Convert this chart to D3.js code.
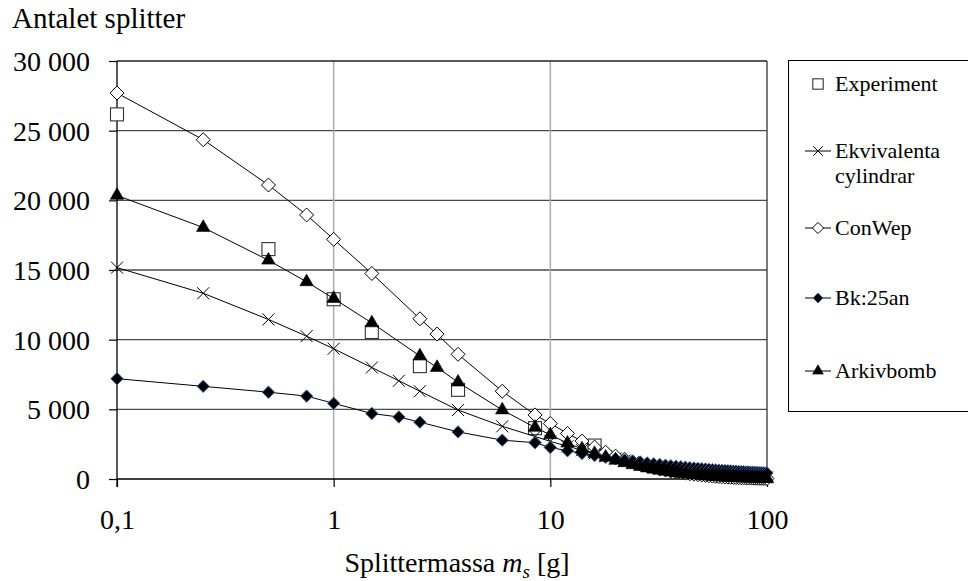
<!DOCTYPE html>
<html><head><meta charset="utf-8">
<script src="https://cdn.jsdelivr.net/npm/d3@7"></script>
<style>
html,body{margin:0;padding:0;background:#fff;}
svg{display:block;}
svg text{font-family:"Liberation Serif","Times New Roman",serif !important;fill:#000;}
</style></head>
<body>
<svg id="c" width="968" height="581"></svg>
<script>
// ---- data ----
const yTicks = [0, 5000, 10000, 15000, 20000, 25000, 30000];
const xTicks = [0.1, 1, 10, 100];
const xTickLabels = ["0,1", "1", "10", "100"];
const seriesNames = ["Experiment", "Ekvivalenta cylindrar", "ConWep", "Bk:25an", "Arkivbomb"];

const expMass = [0.1, 0.5, 1, 1.5, 2.5, 3.75, 8.5, 16];
const expCount = [26170, 16500, 12900, 10550, 8100, 6400, 3650, 2400];

const tailMass = [10,12,14,16,18,20,22,24,26,28,30,32,34,36,38,40,42,44,46,48,50,52,54,56,58,60,62,64,66,68,70,72,74,76,78,80,82,84,86,88,90,92,94,96,98,100];

const ekvMass = [0.1, 0.25, 0.5, 0.75, 1, 1.5, 2, 2.5, 3.75, 6, 8.5];
const ekvCount = [15170, 13330, 11450, 10250, 9350, 8000, 7050, 6300, 4950, 3780, 3050];
const ekvTail = [2700,2350,2070,1830,1630,1470,1320,1200,1090,1000,915,840,775,715,665,615,575,535,495,465,435,405,380,360,335,315,300,280,265,250,235,225,210,200,190,180,170,165,155,145,140,135,125,120,115,110];

const conMass = [0.1, 0.25, 0.5, 0.75, 1, 1.5, 2.5, 3, 3.75, 6, 8.5];
const conCount = [27700, 24350, 21100, 18950, 17200, 14750, 11500, 10400, 8950, 6300, 4600];
const conTail = [3980,3270,2720,2290,1920,1640,1420,1230,1070,940,830,730,650,580,520,465,420,375,340,310,280,255,230,210,195,175,160,150,135,125,115,105,100,90,85,80,75,67,63,58,54,50,47,44,41,38];

const bkMass = [0.1, 0.25, 0.5, 0.75, 1, 1.5, 2, 2.5, 3.75, 6, 8.5];
const bkCount = [7200, 6650, 6230, 5950, 5430, 4700, 4450, 4080, 3380, 2790, 2600];
const bkTail = [2260,2030,1835,1680,1555,1450,1360,1285,1220,1150,1090,1040,990,950,910,875,840,810,785,760,735,715,690,675,655,640,620,605,595,580,565,555,540,530,520,510,500,490,480,475,465,460,450,445,435,430];

const arkMass = [0.1, 0.25, 0.5, 0.75, 1, 1.5, 2.5, 3, 3.75, 6, 8.5];
const arkCount = [20350, 18050, 15700, 14150, 12950, 11200, 8830, 8000, 6950, 4950, 3700];
const arkTail = [3170,2570,2160,1825,1555,1340,1160,1015,890,785,695,615,550,495,445,400,360,325,295,270,245,225,205,185,170,155,145,135,125,115,105,97,90,83,77,72,67,62,58,54,50,47,44,41,39,36];

// ---- build ----
const zip = (xs, ys) => xs.map((x, i) => ({m: x, n: ys[i]}));
const series = [
  {name: seriesNames[0], pts: zip(expMass, expCount), line: false, marker: "square"},
  {name: seriesNames[1], pts: zip(ekvMass.concat(tailMass), ekvCount.concat(ekvTail)), line: true, marker: "x"},
  {name: seriesNames[2], pts: zip(conMass.concat(tailMass), conCount.concat(conTail)), line: true, marker: "openDiamond"},
  {name: seriesNames[3], pts: zip(bkMass.concat(tailMass), bkCount.concat(bkTail)), line: true, marker: "filledDiamond"},
  {name: seriesNames[4], pts: zip(arkMass.concat(tailMass), arkCount.concat(arkTail)), line: true, marker: "triangle"}
];

const FONT = "'Liberation Serif', 'Times New Roman', serif";
const svg = d3.select("#c");
const L = 117, R = 767, T = 61, B = 479;
const x = d3.scaleLog().domain([0.1, 100]).range([L, R]);
const y = d3.scaleLinear().domain([0, 30000]).range([B, T]);

// gridlines
svg.append("g").selectAll("line").data(yTicks.filter(v => v > 0 && v < 30000)).join("line")
  .attr("x1", L).attr("x2", R).attr("y1", d => y(d)).attr("y2", d => y(d))
  .attr("stroke", "#4a4a4a").attr("stroke-width", 1.3);
svg.append("g").selectAll("line").data([1, 10]).join("line")
  .attr("x1", d => x(d)).attr("x2", d => x(d)).attr("y1", T).attr("y2", B)
  .attr("stroke", "#ababab").attr("stroke-width", 1.5);
// frame top & right
svg.append("line").attr("x1", L).attr("x2", R).attr("y1", y(30000)).attr("y2", y(30000)).attr("stroke", "#222").attr("stroke-width", 1.3);
svg.append("line").attr("x1", R).attr("x2", R).attr("y1", T).attr("y2", B).attr("stroke", "#222").attr("stroke-width", 1.2);

// axes
const yAxis = d3.axisLeft(y).tickValues(yTicks).tickSize(8).tickFormat(v => d3.format(",")(v).replace(/,/g, " "));
const gy = svg.append("g").attr("transform", `translate(${L},0)`).call(yAxis)
  .attr("font-family", FONT);
gy.select(".domain").attr("stroke", "#000").attr("stroke-width", 1.3).attr("d", `M0,${T}V${B + 8}`);
gy.selectAll(".tick line").attr("stroke", "#000").attr("stroke-width", 1.2);
gy.selectAll(".tick text").attr("x", -27).attr("font-size", 28).attr("fill", "#000")
  .style("font-family", FONT).attr("dy", "0.34em");

const xAxis = d3.axisBottom(x).tickValues(xTicks).tickSize(8).tickFormat((d, i) => xTickLabels[i]);
const gx = svg.append("g").attr("transform", `translate(0,${B})`).call(xAxis)
  .attr("font-family", FONT);
gx.select(".domain").attr("stroke", "#000").attr("stroke-width", 1.3).attr("d", `M${L},0H${R}`);
gx.selectAll(".tick line").attr("stroke", "#000").attr("stroke-width", 1.2);
gx.selectAll(".tick text").attr("y", 50).attr("dy", 0).attr("font-size", 28).attr("fill", "#000")
  .style("font-family", FONT);

// titles
svg.append("text").attr("x", 12).attr("y", 28).attr("font-size", 29).style("font-family", FONT).text("Antalet splitter");
const xt = svg.append("text").attr("x", 457).attr("y", 572).attr("font-size", 28).attr("text-anchor", "middle").style("font-family", FONT);
xt.append("tspan").text("Splittermassa ");
xt.append("tspan").attr("font-style", "italic").text("m");
xt.append("tspan").attr("font-style", "italic").attr("font-size", 19).attr("dy", 6).text("s");
xt.append("tspan").attr("dy", -6).text(" [g]");

// markers
function drawMarker(g, type, scale) {
  const k = scale || 1;
  if (type === "square") {
    const s = 13 * k;
    g.append("rect").attr("x", -s / 2).attr("y", -s / 2).attr("width", s).attr("height", s)
      .attr("fill", "#fff").attr("stroke", "#333").attr("stroke-width", 1.1);
  } else if (type === "x") {
    const r = 6 * k;
    g.append("path").attr("d", `M${-r},${-r}L${r},${r}M${-r},${r}L${r},${-r}`)
      .attr("stroke", "#000").attr("stroke-width", 1).attr("fill", "none");
  } else if (type === "openDiamond") {
    const r = 7 * k;
    g.append("path").attr("d", `M0,${-r}L${r},0L0,${r}L${-r},0Z`)
      .attr("fill", "#fff").attr("stroke", "#000").attr("stroke-width", 1);
  } else if (type === "filledDiamond") {
    const r = 6.2 * k;
    g.append("path").attr("d", `M0,${-r}L${r},0L0,${r}L${-r},0Z`)
      .attr("fill", "#000").attr("stroke", "#3b67b0").attr("stroke-width", 0.9);
  } else if (type === "triangle") {
    g.append("path").attr("d", d3.symbol().type(d3.symbolTriangle).size(78 * k * k)())
      .attr("fill", "#000").attr("stroke", "#000").attr("stroke-width", 0.6);
  }
}

const line = d3.line().x(d => x(d.m)).y(d => y(d.n));
series.forEach(s => {
  const g = svg.append("g");
  if (s.line) {
    g.append("path").attr("d", line(s.pts)).attr("fill", "none").attr("stroke", "#000").attr("stroke-width", 1);
  }
  s.pts.forEach(p => {
    const mg = g.append("g").attr("transform", `translate(${x(p.m)},${y(p.n)})`);
    drawMarker(mg, s.marker, 1);
  });
});

// legend
const lg = svg.append("g");
lg.append("rect").attr("x", 788.5).attr("y", 60.5).attr("width", 200).attr("height", 351)
  .attr("fill", "#fff").attr("stroke", "#000").attr("stroke-width", 1);
const legendY = [84, 151, 228, 298, 371];
series.forEach((s, i) => {
  const cy = legendY[i];
  if (s.line) {
    lg.append("line").attr("x1", 805).attr("x2", 831).attr("y1", cy).attr("y2", cy)
      .attr("stroke", "#000").attr("stroke-width", 1);
  }
  const mg = lg.append("g").attr("transform", `translate(818,${cy})`);
  drawMarker(mg, s.marker, 0.8);
  const words = s.name === "Ekvivalenta cylindrar" ? ["Ekvivalenta", "cylindrar"] : [s.name];
  words.forEach((w, j) => {
    lg.append("text").attr("x", 835).attr("y", cy + 7 + j * 25).attr("font-size", 22)
      .style("font-family", FONT).text(w);
  });
});
</script>
</body></html>
